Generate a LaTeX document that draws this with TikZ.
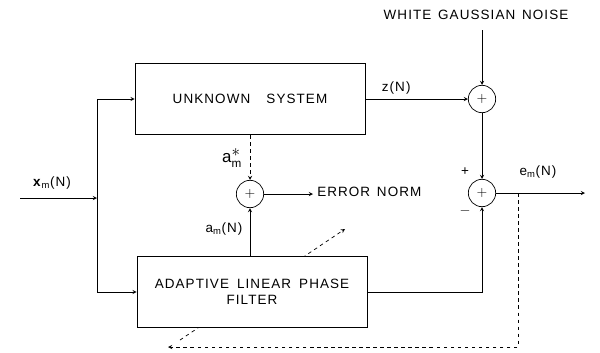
\documentclass[tikz,border=0pt]{standalone}
\usepackage{fontspec}
\setmainfont{Liberation Sans}
\setsansfont{Liberation Sans}
\newfontfamily\diagfont[LetterSpace=8]{Liberation Sans}
\begin{document}
\begin{tikzpicture}[>=stealth, x=0.03cm, y=-0.03cm,
    line width=0.6pt,
    every node/.style={font=\diagfont\fontsize{11.5}{14}\selectfont},
    block/.style={draw, rectangle, fill=white, minimum width=6.9cm, minimum height=2.15cm, align=center},
    summer/.style={draw, circle, minimum size=0.82cm, inner sep=0pt}]

    \useasboundingbox (0,0) rectangle (600,352);

    % adaptive path (behind the filter)
    \coordinate (adaptlow) at (180,340);
    \coordinate (adapthigh) at (345,229);
    \draw[->, dashed] (adaptlow) -- (adapthigh);

    % blocks
    \node[block] (unknown) at (250,99) {UNKNOWN\hspace{1.2em}SYSTEM};
    \node[block] (filter) at (252,292)
        {ADAPTIVE\hspace{0.6em}LINEAR\hspace{0.6em}PHASE\\FILTER};

    % summing junctions
    \node[summer] (errsum) at (250,194) {$+$};
    \node[summer] (noisesum) at (482,99) {$+$};
    \node[summer] (outsum) at (482,193) {$+$};

    % input
    \coordinate (xin) at (20,198);
    \coordinate (split) at (97,198);
    \draw[->] (xin) -- (split);
    \draw (split |- unknown.west) -- (split |- filter.west);
    \draw[->] (split |- unknown.west) -- (unknown.west);
    \draw[->] (split |- filter.west) -- (filter.west);
    \node at (52,183) {\textbf{x}\textsubscript{m}(N)};

    % parameter error
    \draw[->, dashed] (unknown.south -| errsum) -- (errsum.north);
    \draw[->] (filter.north -| errsum) -- (errsum.south);
    \node at (232,158) {\Large$\mathsf{a}^{\textstyle *}_{\mathsf{m}}$};
    \node at (224,229) {$\mathsf{a}_{\mathsf{m}}$(N)};
    \node[right] (errnorm) at (313,192) {ERROR\hspace{0.5em}NORM};
    \draw[->] (errsum.east) -- (errnorm.west |- errsum);

    % noise
    \node (noise) at (476,15) {WHITE\hspace{0.5em}GAUSSIAN\hspace{0.5em}NOISE};
    \draw[->] (noise.south -| noisesum) ++(0,6) -- (noisesum.north);
    \draw[->] (unknown.east |- noisesum) -- node[above, pos=0.3] {z(N)} (noisesum.west);
    \draw[->] (noisesum.south) -- (outsum.north);
    \node at (465,172) {+};
    \node at (465,211) {$-$};

    % filter output
    \draw[->] (filter.east) -| (outsum.south);

    % error output
    \coordinate (eout) at (585,193);
    \draw[->] (outsum.east) -- (eout);
    \node at (538,172) {e\textsubscript{m}(N)};

    % feedback
    \coordinate (tap) at (518,193);
    \coordinate (fbend) at (168,347);
    \draw[->, dashed] (tap) |- (fbend);

\end{tikzpicture}
\end{document}
